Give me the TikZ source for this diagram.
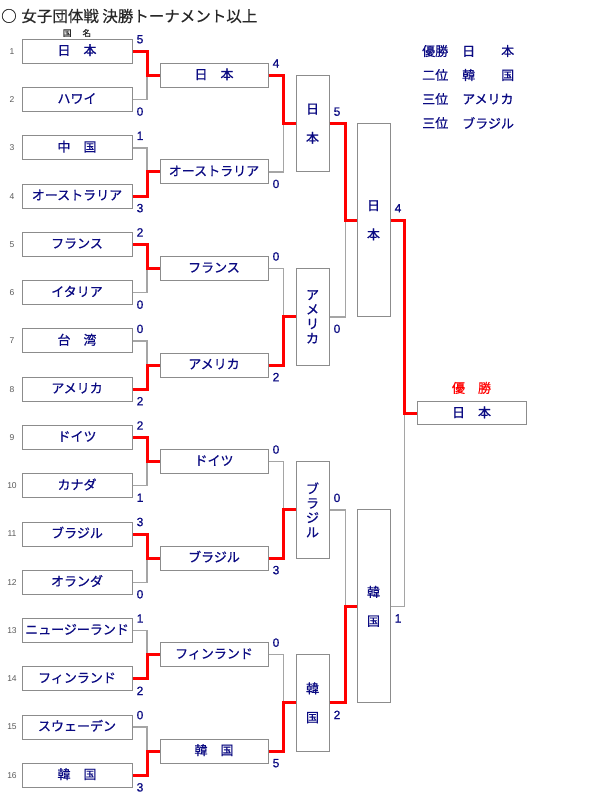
\documentclass[tikz,border=0pt]{standalone}
\usepackage{fontspec}
\setmainfont{Noto Sans CJK JP}[FakeBold=0.6]
\newfontfamily\titlefont{Noto Sans CJK JP}[FakeBold=0.5]
\newfontfamily\numfont{Liberation Sans}[FakeBold=0.7]
\newfontfamily\idxfont{Liberation Sans}
\definecolor{navy}{RGB}{10,10,130}
\definecolor{boxgray}{RGB}{140,140,140}
\definecolor{linegray}{RGB}{165,165,165}
\definecolor{titlegray}{RGB}{40,40,40}
\definecolor{winred}{RGB}{255,0,0}
\begin{document}
\begin{tikzpicture}[x=1pt,y=-1pt,
  box/.style={draw=boxgray, line width=1pt, fill=white, inner sep=0pt, text=navy,
    font=\fontsize{13}{14.5}\selectfont},
  hbox/.style={box, minimum width=110pt, minimum height=24pt, text height=0.88em, text depth=0.12em},
  rtbox/.style={box, minimum width=108pt, minimum height=24pt, text height=0.88em, text depth=0.12em},
  vbox/.style={box, minimum width=33pt, align=center},
  fbox/.style={box, minimum width=109pt, minimum height=23pt, text height=0.88em, text depth=0.12em},
  score/.style={text=navy, inner sep=0pt, font=\numfont\fontsize{12}{12}\selectfont},
  idx/.style={text=black!65, inner sep=0pt, font=\idxfont\fontsize{8.5}{9}\selectfont},
  legend/.style={text=navy, inner sep=0pt, anchor=west, font=\fontsize{13}{14}\selectfont},
  loser/.style={draw=linegray, line width=1.4pt},
  winner/.style={draw=winred, line width=3pt}]
\useasboundingbox (0,0) rectangle (600,800);

% title
\node[anchor=west, inner sep=0pt, text=titlegray, font=\titlefont\fontsize{15.5}{17}\selectfont] (title) at (1,16)
  {○\hspace{0.3em}女子団体戦 決勝トーナメント以上};
\node[inner sep=0pt, text=titlegray, font=\titlefont\fontsize{8.5}{9}\selectfont] (hdr) at (77,33) {国\hspace{11pt}名};

% legend
\node[legend] (l1a) at (422,51) {優勝};  \node[legend] (l1b) at (462,51) {日　　本};
\node[legend] (l2a) at (422,75) {二位};  \node[legend] (l2b) at (462,75) {韓　　国};
\node[legend] (l3a) at (422,99) {三位};  \node[legend] (l3b) at (462,99) {アメリカ};
\node[legend] (l4a) at (422,123) {三位}; \node[legend] (l4b) at (462,123) {ブラジル};

% round 1
\foreach \i/\nm in {1/日　本,2/ハワイ,3/中　国,4/オーストラリア,5/フランス,6/イタリア,7/台　湾,8/アメリカ,
  9/ドイツ,10/カナダ,11/ブラジル,12/オランダ,13/ニュージーランド,14/フィンランド,15/スウェーデン,16/韓　国}{
  \node[hbox] (a\i) at (77,{51.3+48.27*(\i-1)}) {\nm};
  \node[idx] (n\i) at (12,{51.3+48.27*(\i-1)}) {\i};
}
% round 2
\foreach \j/\nm in {1/日　本,2/オーストラリア,3/フランス,4/アメリカ,5/ドイツ,6/ブラジル,7/フィンランド,8/韓　国}{
  \node[rtbox] (b\j) at (214,{75.4+96.54*(\j-1)}) {\nm};
}
% round 3
\node[vbox, minimum height=96.5pt] (c1) at (312.5,123.7) {日\\　\\本};
\node[vbox, minimum height=96.5pt] (c2) at (312.5,316.8) {ア\\メ\\リ\\カ};
\node[vbox, minimum height=96.5pt] (c3) at (312.5,509.9) {ブ\\ラ\\ジ\\ル};
\node[vbox, minimum height=96.5pt] (c4) at (312.5,702.9) {韓\\　\\国};
% round 4
\node[vbox, minimum height=193pt] (d1) at (373.5,220.3) {日\\　\\本};
\node[vbox, minimum height=193pt] (d2) at (373.5,606.4) {韓\\　\\国};
% final
\node[fbox] (f) at (471.5,413.4) {日　本};
\node[inner sep=0pt, text=winred, font=\fontsize{13}{14}\selectfont, text height=0.88em, text depth=0.12em] (champ) at (471.5,389) {優　勝};

% connectors: losers
\draw[loser] (a2.east) -- ++(14.5,0) |- (b1.west);
\draw[loser] (a3.east) -- ++(14.5,0) |- (b2.west);
\draw[loser] (a6.east) -- ++(14.5,0) |- (b3.west);
\draw[loser] (a7.east) -- ++(14.5,0) |- (b4.west);
\draw[loser] (a10.east) -- ++(14.5,0) |- (b5.west);
\draw[loser] (a12.east) -- ++(14.5,0) |- (b6.west);
\draw[loser] (a13.east) -- ++(14.5,0) |- (b7.west);
\draw[loser] (a15.east) -- ++(14.5,0) |- (b8.west);
\draw[loser] (b2.east) -- ++(15,0) |- (c1.west);
\draw[loser] (b3.east) -- ++(15,0) |- (c2.west);
\draw[loser] (b5.east) -- ++(15,0) |- (c3.west);
\draw[loser] (b7.east) -- ++(15,0) |- (c4.west);
\draw[loser] (c2.east) -- ++(16,0) |- (d1.west);
\draw[loser] (c3.east) -- ++(16,0) |- (d2.west);
\draw[loser] (d2.east) -- ++(14,0) |- (f.west);
% connectors: winners
\draw[winner] (a1.east) -- ++(14.5,0) |- (b1.west);
\draw[winner] (a4.east) -- ++(14.5,0) |- (b2.west);
\draw[winner] (a5.east) -- ++(14.5,0) |- (b3.west);
\draw[winner] (a8.east) -- ++(14.5,0) |- (b4.west);
\draw[winner] (a9.east) -- ++(14.5,0) |- (b5.west);
\draw[winner] (a11.east) -- ++(14.5,0) |- (b6.west);
\draw[winner] (a14.east) -- ++(14.5,0) |- (b7.west);
\draw[winner] (a16.east) -- ++(14.5,0) |- (b8.west);
\draw[winner] (b1.east) -- ++(15,0) |- (c1.west);
\draw[winner] (b4.east) -- ++(15,0) |- (c2.west);
\draw[winner] (b6.east) -- ++(15,0) |- (c3.west);
\draw[winner] (b8.east) -- ++(15,0) |- (c4.west);
\draw[winner] (c1.east) -- ++(16,0) |- (d1.west);
\draw[winner] (c4.east) -- ++(16,0) |- (d2.west);
\draw[winner] (d1.east) -- ++(14,0) |- (f.west);

% scores
\foreach \i/\s/\d in {1/5/-1,2/0/1,3/1/-1,4/3/1,5/2/-1,6/0/1,7/0/-1,8/2/1,
  9/2/-1,10/1/1,11/3/-1,12/0/1,13/1/-1,14/2/1,15/0/-1,16/3/1}{
  \node[score] (sa\i) at (140,{51.3+48.27*(\i-1)+12*\d}) {\s};
}
\foreach \j/\s/\d in {1/4/-1,2/0/1,3/0/-1,4/2/1,5/0/-1,6/3/1,7/0/-1,8/5/1}{
  \node[score] (sb\j) at (276,{75.4+96.54*(\j-1)+12*\d}) {\s};
}
\node[score] (sc1) at (337,111.7) {5};
\node[score] (sc2) at (337,328.8) {0};
\node[score] (sc3) at (337,497.9) {0};
\node[score] (sc4) at (337,714.9) {2};
\node[score] (sd1) at (398,208.3) {4};
\node[score] (sd2) at (398,618.4) {1};
\end{tikzpicture}
\end{document}
